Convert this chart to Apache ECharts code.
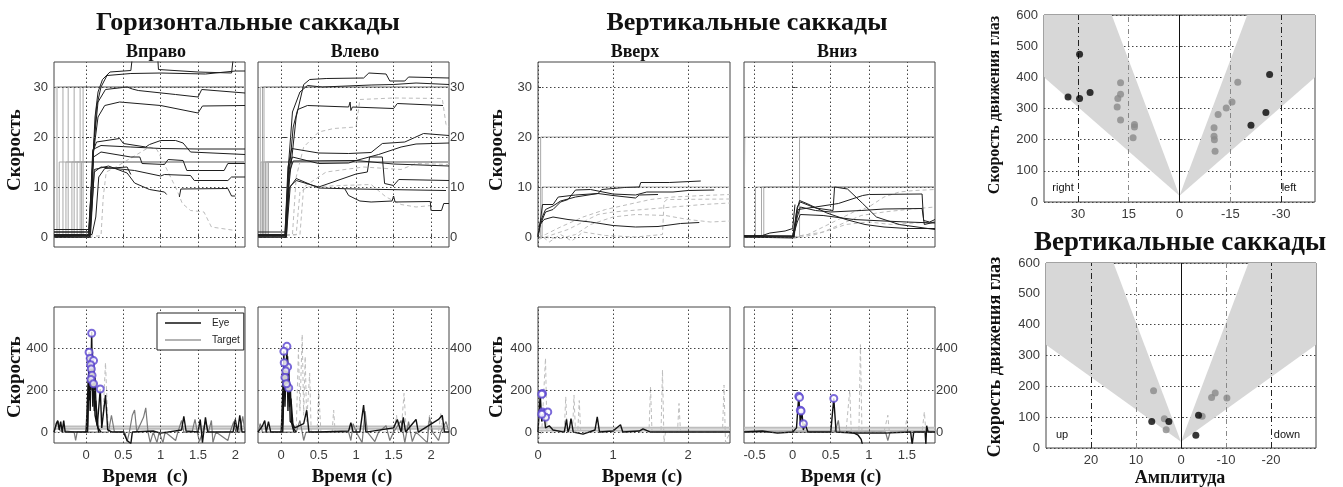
<!DOCTYPE html>
<html><head><meta charset="utf-8">
<script src="https://cdn.jsdelivr.net/npm/echarts@6/dist/echarts.min.js"></script>
<style>html,body{margin:0;padding:0;background:#fff}#c{width:1343px;height:487px}</style>
</head><body><div id="c"></div><script>
// ---------------- DATA ----------------
// tick labels
const hTimeTicks = [0, 0.5, 1, 1.5, 2];
const vUpTimeTicks = [0, 1, 2];
const vDownTimeTicks = [-0.5, 0, 0.5, 1, 1.5];
const posTicks = [0, 10, 20, 30];
const velTicks = [0, 200, 400];
const hAmpTicks = [30, 15, 0, -15, -30];
const vAmpTicks = [20, 10, 0, -10, -20];

// Horizontal, rightward: eye position traces [time s, deg]
const hRightPosEye = [
 [[-0.43,0.5],[0.03,0.5],[0.08,12],[0.12,24],[0.16,29],[0.22,31.5],[0.32,33],[0.6,33.3],[0.62,36],[0.96,36],[0.97,33.5],[1.5,33],[1.95,32.8],[1.97,35.5],[2.13,35.5]],
 [[-0.43,1.5],[0.04,1.5],[0.09,15],[0.14,26],[0.2,30],[0.28,32.3],[0.6,32.7],[1.0,32.8],[1.6,32.6],[2.0,33.2],[2.13,33.2]],
 [[-0.43,1],[0.05,1],[0.1,18],[0.16,27],[0.26,29.5],[0.55,30],[0.62,29.6],[0.7,29.3],[1.2,28.5],[1.5,28],[1.55,29.5],[2.13,28.8]],
 [[-0.43,0],[0.05,0],[0.1,17],[0.16,24],[0.25,26.3],[0.45,27],[1.0,26.3],[1.5,24.8],[1.56,26.2],[2.13,26.3]],
 [[-0.43,0],[0.05,0],[0.09,17],[0.14,19],[0.45,19.7],[0.5,18.7],[0.8,18],[0.85,18.5],[1.0,19.3],[1.2,19.3],[1.3,18.8],[1.4,17],[2.13,16.5]],
 [[-0.43,1],[0.04,1],[0.09,17.5],[0.2,18.3],[0.6,18],[1.0,17.7],[1.5,17.6],[2.13,17.6]],
 [[-0.43,0.3],[0.05,0.3],[0.1,16],[0.2,17],[0.6,16],[0.72,16],[0.75,14.7],[1.05,14.5],[1.1,15.5],[1.3,15.3],[1.35,13.3],[1.85,13.3],[1.9,14.7],[2.13,14.7]],
 [[-0.43,0],[0.05,0],[0.11,13],[0.2,14],[0.65,13.3],[1.0,12.2],[1.05,12.5],[1.4,12.3],[1.45,11.3],[1.9,11.3],[1.95,12],[2.13,12]],
 [[-0.43,0.5],[0.06,0.5],[0.11,13.5],[0.3,14.2],[0.55,12.8],[0.65,10.8],[0.85,9.5],[1.05,9],[1.08,8.5]],
 [[1.25,8],[1.27,9.6],[1.9,9.7],[1.95,8.2],[2.0,8.2]],
 [[-0.43,0],[0.08,0.5],[0.13,4],[0.17,12],[0.25,13.7],[0.55,14],[0.6,12.5]]
];
const hRightPosDashed = [
 [[-0.43,0.2],[0.2,0.2],[0.23,8],[0.27,13],[0.4,14],[0.85,18],[0.95,17.5],[1.09,13.3],[1.22,9.3],[1.29,6.7],[1.4,5.3],[1.58,5],[1.68,2],[2.0,1.3]]
];
const hRightTargetSteps = [[-0.42,30],[-0.39,30],[-0.31,30],[-0.24,30],[-0.16,30],[-0.08,30],[-0.04,30],[-0.36,15],[-0.27,15],[-0.19,15],[-0.12,15],[-0.06,15]];

// Horizontal, leftward
const hLeftPosEye = [
 [[-0.31,1],[0.06,1],[0.1,10],[0.2,24],[0.3,30.5],[0.38,31.5],[0.6,31.7],[1.1,31.8],[1.17,32.8],[1.4,32.6],[1.45,31.2],[1.65,31.2],[1.7,32],[2.24,31.8]],
 [[-0.31,0.5],[0.05,0.5],[0.1,15],[0.15,25],[0.25,29],[0.35,30.3],[0.55,30],[1.2,30.4],[1.5,30.5],[1.8,30.8],[2.24,30.5]],
 [[-0.31,0],[0.06,0],[0.1,12],[0.16,22],[0.22,25.5],[0.35,26.3],[0.9,26],[0.92,27],[0.93,25.3],[0.95,26],[1.5,25.7],[1.55,26.7],[2.16,26.3]],
 [[-0.31,0.5],[0.05,0.5],[0.09,14],[0.14,17.7],[0.5,16.8],[0.9,16.7],[1.2,16.9],[1.35,18.7],[1.65,19],[1.9,20.7],[2.24,20.3]],
 [[-0.31,0],[0.06,0],[0.1,14],[0.15,16],[0.5,14.7],[0.9,14.8],[1.0,15.3],[1.3,16.5],[1.6,18],[1.8,18.6],[2.24,18.8]],
 [[-0.31,0],[0.07,0],[0.11,13],[0.16,15.2],[1.0,15.3],[1.5,14.6],[2.24,14.2]],
 [[-0.31,0.3],[0.06,0.3],[0.11,10],[0.2,11.3],[0.5,10],[1.0,12.6],[1.15,13],[1.18,16],[1.35,16],[1.38,10.7],[1.5,10.3],[1.57,11.5],[2.24,11.3]],
 [[-0.31,0.5],[0.07,0.5],[0.12,10],[0.2,11.7],[0.5,9.8],[1.0,9.6],[2.2,9.3]],
 [[0.85,9.6],[0.9,8.3],[1.05,7.2],[1.2,7],[1.48,7.2],[1.5,8.2],[1.52,7],[1.99,7.1],[2.0,5.3],[2.14,5.3],[2.17,6.7],[2.24,6.7]]
];
const hLeftPosDashed = [
 [[-0.31,0],[0.15,0.5],[0.2,12],[0.3,18],[0.5,21],[0.7,21.7],[1.0,22],[1.05,27.5],[1.5,27.8],[2.15,27.7],[2.2,22.5],[2.24,22]],
 [[-0.31,0],[0.2,0.5],[0.25,9],[0.35,10],[0.8,10.3],[1.2,10.5],[1.4,8],[1.6,6.5],[1.8,6],[2.0,6.3]],
 [[-0.31,0],[0.25,0.5],[0.3,10],[0.6,13],[1.1,14],[1.6,13.5],[1.8,14.7],[2.24,14.5]]
];
const hLeftTargetSteps = [[-0.28,30],[-0.25,30],[-0.23,30],[-0.27,15],[-0.24,15],[-0.21,15],[-0.19,15],[-0.17,15]];

// Vertical, upward
const vUpPosEye = [
 [[0,0.5],[0.03,3],[0.06,6.5],[0.2,6.5],[0.27,8],[0.5,8.4],[0.8,8.7],[0.85,9.5],[1.15,9.9],[1.35,10],[1.37,10.9],[1.75,10.9],[1.77,11.2],[2.17,11.2]],
 [[0,0],[0.03,2.5],[0.1,5],[0.2,5.5],[0.3,7],[0.4,7.5],[0.5,9.4],[0.7,9.5],[1.0,8.6],[1.3,8.4],[1.45,9],[1.8,9],[2.0,9.3],[2.35,9.4]],
 [[0,0],[0.03,3],[0.1,5.5],[0.2,6.2],[0.3,7.2],[0.5,8],[0.8,8.7],[1.0,8.3],[1.3,7.8],[1.35,8.4],[1.6,8.5]],
 [[0,0.3],[0.03,2.5],[0.08,3.5],[0.2,4],[0.4,3.5],[0.7,3],[1.0,2.3],[1.3,2],[1.6,2.1],[1.9,2.7],[2.15,2.9]]
];
const vUpPosDashed = [
 [[0,0],[0.1,0.5],[0.3,2],[0.6,4],[0.9,5.5],[1.2,6.5],[1.5,7.5],[1.8,8],[2.2,8.3],[2.56,8.5]],
 [[0,-0.5],[0.2,0.5],[0.4,1.5],[0.6,3],[0.8,4.5],[1.0,5],[1.4,5.5],[1.8,6],[2.2,6.5],[2.56,6.8]],
 [[0,0],[0.3,-0.3],[0.5,0.5],[0.7,2.5],[1.0,4],[1.3,4.5],[1.7,4.3],[2.0,3.5],[2.3,3],[2.56,3.2]],
 [[0,0.8],[0.15,-1],[0.3,0.5],[0.45,-0.8],[0.6,1],[0.9,0.3],[1.3,0],[1.66,0.5],[1.68,7],[1.72,7.5],[2.56,7.6]]
];
const vUpTargetSteps = [[0.035,20],[0.055,10]];

// Vertical, downward
const vDownPosEye = [
 [[-0.64,0.3],[-0.02,0.2],[0.02,0],[0.05,5],[0.09,7.3],[0.2,6.6],[0.45,4.8],[0.7,3.5],[0.95,2.5],[1.2,2],[1.5,1.7],[1.87,1.7]],
 [[-0.64,0.1],[0.0,0],[0.06,6],[0.1,7],[0.3,5.8],[0.53,5.3],[0.55,10],[0.72,9.6],[0.92,6.7],[1.1,4],[1.4,2.5],[1.87,1.5]],
 [[-0.64,0.2],[0.0,0.2],[0.07,5.5],[0.3,6],[0.6,6.7],[0.92,8.3],[1.0,8.5],[1.7,8.6],[1.72,3.3],[1.8,3],[1.87,3.5]],
 [[-0.64,0],[0.01,0],[0.06,4],[0.1,6],[0.3,5.3],[0.5,5],[0.9,5.3],[1.2,5.6],[1.7,5.7],[1.73,2.5],[1.87,3]],
 [[-0.64,0],[0.0,-0.2],[0.06,3],[0.1,4.5],[0.4,4.3],[0.8,3.5],[1.2,3.2],[1.5,3],[1.87,2.8]],
 [[-0.64,0],[-0.4,0.3],[-0.3,0.8],[-0.1,1.2],[0.0,1.7],[0.03,6.5]]
];
const vDownPosDashed = [
 [[0,0],[0.2,0.5],[0.4,2],[0.6,3.5],[0.8,5],[1.0,6],[1.2,8],[1.4,9],[1.6,9.3],[1.87,9.5]],
 [[0,-0.3],[0.3,0.5],[0.5,1.5],[0.7,2.5],[1.0,3],[1.3,2.5],[1.6,2.8],[1.87,3]],
 [[0,0],[0.4,1],[0.7,3],[0.9,4.3],[1.2,5],[1.5,5.5],[1.87,6]]
];
const vDownTargetSteps = [[-0.63,20],[-0.49,10],[-0.41,10],[-0.38,10],[0.09,20]];

// Velocity traces [time s, deg/s]
const hRightVelEye = [
 [[-0.43,0],[-0.4,40],[-0.38,55],[-0.36,10],[-0.34,50],[-0.32,0],[-0.3,55],[-0.28,0],[-0.2,0],[0.0,0],[0.02,30],[0.04,380],[0.055,100],[0.075,477],[0.09,120],[0.1,340],[0.12,80],[0.15,30],[0.19,205],[0.21,20],[0.26,176],[0.29,10],[0.35,0],[0.5,0],[0.55,-40],[0.6,-55],[0.62,0],[0.9,5],[1.0,-5],[1.28,10],[1.31,75],[1.34,5],[1.5,0],[1.53,60],[1.56,-50],[1.6,70],[1.63,0],[1.97,0],[2.0,60],[2.03,0],[2.06,80],[2.09,0],[2.13,0]],
 [[0,0],[0.03,250],[0.05,150],[0.06,360],[0.08,200],[0.09,300],[0.11,100],[0.13,150],[0.16,20],[0.2,0]],
 [[0.02,0],[0.045,330],[0.065,220],[0.085,380],[0.1,180],[0.12,260],[0.14,50],[0.17,0]]
];
const hRightVelGray = [
 [[-0.43,0],[-0.4,30],[-0.37,50],[-0.35,5],[-0.25,5],[-0.16,0],[-0.14,-40],[-0.12,0],[0.3,0],[0.34,80],[0.38,0],[0.52,0],[0.55,-45],[0.58,0],[0.62,80],[0.65,105],[0.68,0],[0.77,70],[0.8,115],[0.83,0],[0.86,-50],[0.9,0],[0.95,-50],[0.98,0],[1.03,-50],[1.06,0],[1.2,-40],[1.23,0],[1.28,55],[1.31,0],[1.42,0],[1.46,60],[1.49,0],[1.52,-45],[1.56,0],[1.6,50],[1.64,0],[1.68,55],[1.7,-50],[1.74,0],[1.9,-40],[1.93,0],[1.98,50],[2.01,0],[2.06,0],[2.1,75],[2.13,0]]
];
const hRightVelDashed = [[[-0.43,0],[0.2,0],[0.23,100],[0.26,330],[0.29,60],[0.31,0],[2.13,0]]];
const hRightVelPeaks = [[0.075,470],[0.04,380],[0.055,350],[0.1,340],[0.19,205],[0.06,320],[0.07,300],[0.08,270],[0.065,250],[0.1,230]];

const hLeftVelEye = [
 [[-0.31,0],[-0.25,30],[-0.22,55],[-0.2,0],[-0.17,50],[-0.14,0],[0.0,0],[0.02,40],[0.035,384],[0.05,120],[0.076,408],[0.09,100],[0.1,310],[0.12,50],[0.15,40],[0.18,20],[0.3,40],[0.34,104],[0.37,0],[0.5,0],[0.9,5],[0.93,45],[0.96,0],[1.05,0],[1.1,128],[1.13,0],[1.5,20],[1.55,60],[1.6,0],[1.63,70],[1.66,0],[1.8,60],[1.83,0],[2.1,60],[2.15,80],[2.18,0],[2.24,0]],
 [[0,0],[0.03,280],[0.05,180],[0.065,340],[0.08,220],[0.095,290],[0.11,120],[0.13,160],[0.16,20],[0.2,0]],
 [[0.02,0],[0.045,320],[0.06,200],[0.085,360],[0.1,200],[0.12,230],[0.14,40],[0.17,0]]
];
const hLeftVelGray = [
 [[-0.31,0],[-0.28,40],[-0.25,0],[0.2,0],[0.25,55],[0.28,0],[0.3,-40],[0.33,0],[0.9,0],[0.93,-40],[0.96,40],[1.0,0],[1.08,-50],[1.12,100],[1.15,0],[1.25,-45],[1.3,0],[1.4,30],[1.45,-40],[1.5,0],[1.6,55],[1.65,-50],[1.7,50],[1.75,-45],[1.8,0],[1.95,-50],[1.98,70],[2.02,0],[2.1,-40],[2.13,0],[2.2,50],[2.24,0]]
];
const hLeftVelDashed = [[[-0.31,0],[0.2,0],[0.23,392],[0.25,100],[0.28,464],[0.3,80],[0.32,360],[0.34,50],[0.38,280],[0.4,0],[0.48,0],[0.5,200],[0.53,0],[0.68,0],[0.7,104],[0.72,0],[1.5,0],[1.54,80],[1.56,0],[1.6,0],[1.64,184],[1.67,0],[1.95,0],[1.98,80],[2.0,0],[2.1,0],[2.13,90],[2.16,0],[2.24,0]]];
const hLeftVelPeaks = [[0.076,408],[0.035,384],[0.085,310],[0.06,290],[0.05,260],[0.1,210],[0.07,230],[0.04,330]];

const vUpVelEye = [
 [[0,0],[0.03,180],[0.05,50],[0.08,90],[0.1,20],[0.15,30],[0.2,10],[0.35,0],[0.38,60],[0.4,0],[0.42,20],[0.44,64],[0.47,0],[0.6,-10],[0.76,10],[0.79,72],[0.82,0],[1.0,5],[1.1,35],[1.13,0],[1.35,5],[1.4,15],[1.5,0],[2.56,0]]
];
const vUpVelDashed = [[[0,-40],[0.05,0],[0.1,352],[0.12,0],[0.35,0],[0.37,168],[0.39,0],[0.46,0],[0.48,176],[0.5,0],[0.53,0],[0.55,150],[0.57,0],[1.48,0],[1.5,216],[1.52,0],[1.64,0],[1.66,296],[1.68,-50],[1.7,0],[1.86,0],[1.88,136],[1.9,0],[2.46,0],[2.48,224],[2.5,-50],[2.56,0]]];
const vUpVelPeaks = [[0.06,184],[0.05,180],[0.06,95],[0.07,88],[0.13,96],[0.1,70],[0.05,85]];

const vDownVelEye = [
 [[-0.64,0],[-0.4,5],[-0.2,-5],[0.0,0],[0.05,20],[0.08,176],[0.1,40],[0.12,104],[0.14,10],[0.16,40],[0.2,0],[0.5,0],[0.54,160],[0.57,0],[0.8,-5],[1.2,-5],[1.55,0],[1.57,-60],[1.59,0],[1.74,0],[1.75,-60],[1.76,30],[1.78,0],[1.87,0]],
 [[0.7,0],[0.8,-4],[0.86,-15],[0.9,-35],[0.93,-80]]
];
const vDownVelGray = [[[-0.64,0],[0.55,0],[0.58,30],[0.6,56],[0.62,0],[1.22,0],[1.25,-40],[1.28,0],[1.87,0]]];
const vDownVelDashed = [[[-0.64,0],[0.7,0],[0.75,200],[0.77,0],[0.87,0],[0.89,416],[0.91,0],[1.2,0],[1.25,80],[1.27,0],[1.47,0],[1.5,64],[1.52,0],[1.7,0],[1.73,96],[1.75,0],[1.87,0]]];
const vDownVelPeaks = [[0.08,170],[0.09,165],[0.1,104],[0.11,100],[0.14,40],[0.54,160]];

const hVelTargetLevels = [16, 27];
const vVelTargetLevels = [8, 20];

// Main sequence: [amplitude deg, peak velocity deg/s]
const hSeqBlack = [[32.9,337],[29.5,474],[29.5,332],[26.4,351],[-26.6,409],[-25.5,287],[-21.1,246]];
const hSeqGray = [[17.4,383],[17.4,346],[18.2,332],[18.4,305],[17.4,263],[13.3,249],[13.3,241],[13.7,206],[-17.2,384],[-15.5,321],[-13.8,302],[-11.4,281],[-10.2,238],[-10.2,211],[-10.3,200],[-10.5,163]];
const vSeqBlack = [[6.5,86],[2.7,86],[-3.9,106],[-3.3,41]];
const vSeqGray = [[6.1,186],[3.7,95],[3.3,59],[-4.7,103],[-6.8,164],[-7.6,178],[-10.2,162]];
const hConeLeft = [[0,20],[40,400],[40,600],[20,600]];
const hConeRight = [[0,20],[-40,400],[-40,600],[-20,600]];
const vConeLeft = [[0,20],[30,335],[30,600],[15,600]];
const vConeRight = [[0,20],[-30,335],[-30,600],[-15,600]];
const hSeqRefLines = {dark:[30,-30], light:[15,-15], zero:[0]};
const vSeqRefLines = {dark:[20,-20], light:[10,-10], zero:[0]};

// ---------------- CHART ----------------
const FONT = '"Liberation Sans", Arial, sans-serif';
const SERIF = '"Liberation Serif", "Times New Roman", serif';
const grids = [
 {left:54, top:62, width:191, height:185},
 {left:258, top:62, width:191, height:185},
 {left:54, top:307, width:191, height:136},
 {left:258, top:307, width:191, height:136},
 {left:538, top:62, width:192, height:185},
 {left:744, top:62, width:191, height:185},
 {left:538, top:307, width:192, height:136},
 {left:744, top:307, width:191, height:136},
 {left:1044, top:15, width:271, height:187},
 {left:1046, top:263, width:270, height:185}
].map(g => Object.assign({show:true, borderColor:'#444', borderWidth:1, backgroundColor:'transparent', containLabel:false}, g));

const xAxes = [], yAxes = [], series = [];
const posY = [-2, 35], velY = [-52, 595];
const panels = [
 {g:0, x:[-0.43,2.13], y:posY, xt:hTimeTicks, yt:posTicks, xl:false, ys:'left'},
 {g:1, x:[-0.31,2.24], y:posY, xt:hTimeTicks, yt:posTicks, xl:false, ys:'right'},
 {g:2, x:[-0.43,2.13], y:velY, xt:hTimeTicks, yt:velTicks, xl:true, ys:'left'},
 {g:3, x:[-0.31,2.24], y:velY, xt:hTimeTicks, yt:velTicks, xl:true, ys:'right'},
 {g:4, x:[0,2.56], y:posY, xt:vUpTimeTicks, yt:posTicks, xl:false, ys:'left'},
 {g:5, x:[-0.64,1.87], y:posY, xt:vDownTimeTicks, yt:posTicks, xl:false, ys:null},
 {g:6, x:[0,2.56], y:velY, xt:vUpTimeTicks, yt:velTicks, xl:true, ys:'left'},
 {g:7, x:[-0.64,1.87], y:velY, xt:vDownTimeTicks, yt:velTicks, xl:true, ys:'right'}
];
const lbl = {color:'#3a3a3a', fontSize:13, fontFamily:FONT};
panels.forEach(p => {
 xAxes.push({type:'value', gridIndex:p.g, min:p.x[0], max:p.x[1], axisLine:{show:false}, splitLine:{show:false},
  axisTick:{show:true, inside:true, length:3, customValues:p.xt, lineStyle:{color:'#444'}},
  axisLabel:Object.assign({show:p.xl, customValues:p.xt, margin:6}, lbl)});
 const right = p.ys === 'right';
 yAxes.push({type:'value', gridIndex:p.g, min:p.y[0], max:p.y[1], position: right ? 'right' : 'left',
  axisLine:{show:false}, splitLine:{show:false},
  axisTick:{show:true, inside:!right, length:right?5:3, customValues:p.yt, lineStyle:{color:'#333'}},
  axisLabel:Object.assign({show:!!p.ys, customValues:p.yt, margin:right?1:6}, lbl)});
});
// scatter axes
[[8,[-40,40],hAmpTicks],[9,[-30,30],vAmpTicks]].forEach(([g,r,t]) => {
 xAxes.push({type:'value', gridIndex:g, min:r[0], max:r[1], inverse:true, axisLine:{show:false}, splitLine:{show:false},
  axisTick:{show:true, inside:true, length:3, customValues:t, lineStyle:{color:'#444'}},
  axisLabel:Object.assign({customValues:t, margin:6}, lbl)});
 yAxes.push({type:'value', gridIndex:g, min:0, max:600, interval:100, axisLine:{show:false},
  splitLine:{show:true, lineStyle:{color:'#444', type:[1.5,2.5], width:1}},
  axisTick:{show:true, inside:true, length:3, lineStyle:{color:'#444'}},
  axisLabel:Object.assign({margin:6}, lbl)});
});

const gridLineStyle = {color:'#444', type:[1.5,2.5], width:1};
function gridMarks(p) {
 const d = [];
 p.xt.forEach(v => d.push({xAxis:v}));
 p.yt.forEach(v => d.push({yAxis:v}));
 return {silent:true, symbol:'none', label:{show:false}, lineStyle:gridLineStyle, data:d, animation:false};
}
function line(gi, data, style, name, z) {
 series.push({type:'line', name:name, xAxisIndex:gi, yAxisIndex:gi, data:data, showSymbol:false, symbol:'none',
  lineStyle:style, itemStyle:{color:style.color}, color:style.color, silent:true, z:z||3, animation:false});
}
function steps(list, p) {
 return list.map(([ts, a]) => [[p.x[0],0],[ts,0],[ts,a],[p.x[1],a]]);
}
const targetStyle = {color:'#a9a9a9', width:1};
const eyeStyle = {color:'#1e1e1e', width:1};
const dashStyle = {color:'#bdbdbd', width:1, type:[4,3]};
const velEye = {color:'#111', width:1.4};
const velGray = {color:'#7a7a7a', width:1.2};
const bandStyle = {color:'#bdbdbd', width:2};

// host series with grid lines
panels.forEach(p => {
 series.push({type:'line', xAxisIndex:p.g, yAxisIndex:p.g, data:[], symbol:'none', silent:true, z:1, markLine:gridMarks(p)});
});
function posPanel(p, targets, dashed, eye) {
 steps(targets, p).forEach(t => line(p.g, t, targetStyle, 'TargetPos', 2));
 dashed.forEach(t => line(p.g, t, dashStyle, null, 3));
 eye.forEach(t => line(p.g, t, eyeStyle, 'EyePos', 4));
}
posPanel(panels[0], hRightTargetSteps, hRightPosDashed, hRightPosEye);
posPanel(panels[1], hLeftTargetSteps, hLeftPosDashed, hLeftPosEye);
posPanel(panels[4], vUpTargetSteps, vUpPosDashed, vUpPosEye);
posPanel(panels[5], vDownTargetSteps, vDownPosDashed, vDownPosEye);

function velPanel(p, levels, dashed, gray, eye, peaks) {
 levels.forEach(l => line(p.g, [[p.x[0],l],[p.x[1],l]], bandStyle, 'Target', 2));
 dashed.forEach(t => line(p.g, t, dashStyle, null, 3));
 gray.forEach(t => line(p.g, t, velGray, null, 3));
 eye.forEach(t => line(p.g, t, velEye, 'Eye', 4));
 series.push({type:'scatter', xAxisIndex:p.g, yAxisIndex:p.g, data:peaks, symbol:'emptyCircle', symbolSize:7,
  itemStyle:{color:'#5a45cf', borderColor:'#5a45cf', borderWidth:1.2}, silent:true, z:5, animation:false});
}
velPanel(panels[2], hVelTargetLevels, hRightVelDashed, hRightVelGray, hRightVelEye, hRightVelPeaks);
velPanel(panels[3], hVelTargetLevels, hLeftVelDashed, hLeftVelGray, hLeftVelEye, hLeftVelPeaks);
velPanel(panels[6], vVelTargetLevels, vUpVelDashed, [], vUpVelEye, vUpVelPeaks);
velPanel(panels[7], vVelTargetLevels, vDownVelDashed, vDownVelGray, vDownVelEye, vDownVelPeaks);

// main-sequence panels
function cone(gi, verts) {
 series.push({type:'custom', xAxisIndex:gi, yAxisIndex:gi, data:verts, silent:true, z:1, animation:false,
  renderItem:(params, api) => {
   if (params.dataIndex !== 0) return;
   return {type:'polygon', shape:{points: verts.map(v => api.coord(v))}, style:{fill:'#d7d7d7'}};
  }});
}
function seqPanel(gi, coneL, coneR, black, gray, ref) {
 cone(gi, coneL); cone(gi, coneR);
 const md = [];
 ref.dark.forEach(v => md.push({xAxis:v, lineStyle:{color:'#222', type:[6,3,1,3], width:1}}));
 ref.light.forEach(v => md.push({xAxis:v, lineStyle:{color:'#888', type:[5,3,1,3], width:1}}));
 ref.zero.forEach(v => md.push({xAxis:v, lineStyle:{color:'#111', type:'solid', width:1}}));
 series.push({type:'scatter', xAxisIndex:gi, yAxisIndex:gi, data:gray, symbolSize:7, itemStyle:{color:'#8a8a8a'}, silent:true, z:4, animation:false,
  markLine:{silent:true, symbol:'none', label:{show:false}, data:md, animation:false}});
 series.push({type:'scatter', xAxisIndex:gi, yAxisIndex:gi, data:black, symbolSize:7, itemStyle:{color:'#050505'}, silent:true, z:5, animation:false});
}
seqPanel(8, hConeLeft, hConeRight, hSeqBlack, hSeqGray, hSeqRefLines);
seqPanel(9, vConeLeft, vConeRight, vSeqBlack, vSeqGray, vSeqRefLines);

// texts
function T(text, x, y, size, rot, bold, fam) {
 return {type:'text', x:x, y:y, rotation: rot ? Math.PI/2 : 0, silent:true, z:100,
  style:{text:text, fill:'#111', font:(bold===false?'':'bold ')+size+'px '+(fam||SERIF), align:'center', verticalAlign:'middle'}};
}
const graphics = [
 T('Горизонтальные саккады', 248, 23, 26),
 T('Вправо', 156, 52, 18), T('Влево', 355, 52, 18),
 T('Вертикальные саккады', 747, 23, 26),
 T('Вверх', 635, 52, 18), T('Вниз', 837, 52, 18),
 T('Скорость', 15, 150, 19, true), T('Скорость', 15, 377, 19, true),
 T('Скорость', 497, 150, 19, true), T('Скорость', 497, 377, 19, true),
 T('Время  (с)', 145, 477, 19), T('Время (с)', 352, 477, 19),
 T('Время (с)', 642, 477, 19), T('Время (с)', 841, 477, 19),
 T('Скорость движения глаз', 995, 105, 16, true), T('Скорость движения глаз', 995, 357, 18, true),
 T('Вертикальные саккады', 1180, 243, 27),
 T('Амплитуда', 1180, 478, 18),
 T('right', 1063, 188, 11, false, false, FONT), T('left', 1289, 188, 11, false, false, FONT),
 T('up', 1062, 435, 11, false, false, FONT), T('down', 1287, 435, 11, false, false, FONT)
];

const chart = echarts.init(document.getElementById('c'), null, {renderer:'canvas'});
chart.setOption({
 animation:false, backgroundColor:'#fff',
 grid:grids, xAxis:xAxes, yAxis:yAxes, series:series, graphic:graphics,
 legend:{data:[{name:'Eye', itemStyle:{color:'#111'}}, {name:'Target', itemStyle:{color:'#9a9a9a'}}],
  icon:'rect', orient:'vertical', left:157, top:313, itemWidth:36, itemHeight:1.5, itemGap:7,
  padding:[5,4,5,8], borderColor:'#222', borderWidth:1, backgroundColor:'#fff', selectedMode:false,
  textStyle:{fontSize:10, fontFamily:FONT, color:'#222', padding:[0,0,0,6]}, z:20}
});
</script></body></html>
